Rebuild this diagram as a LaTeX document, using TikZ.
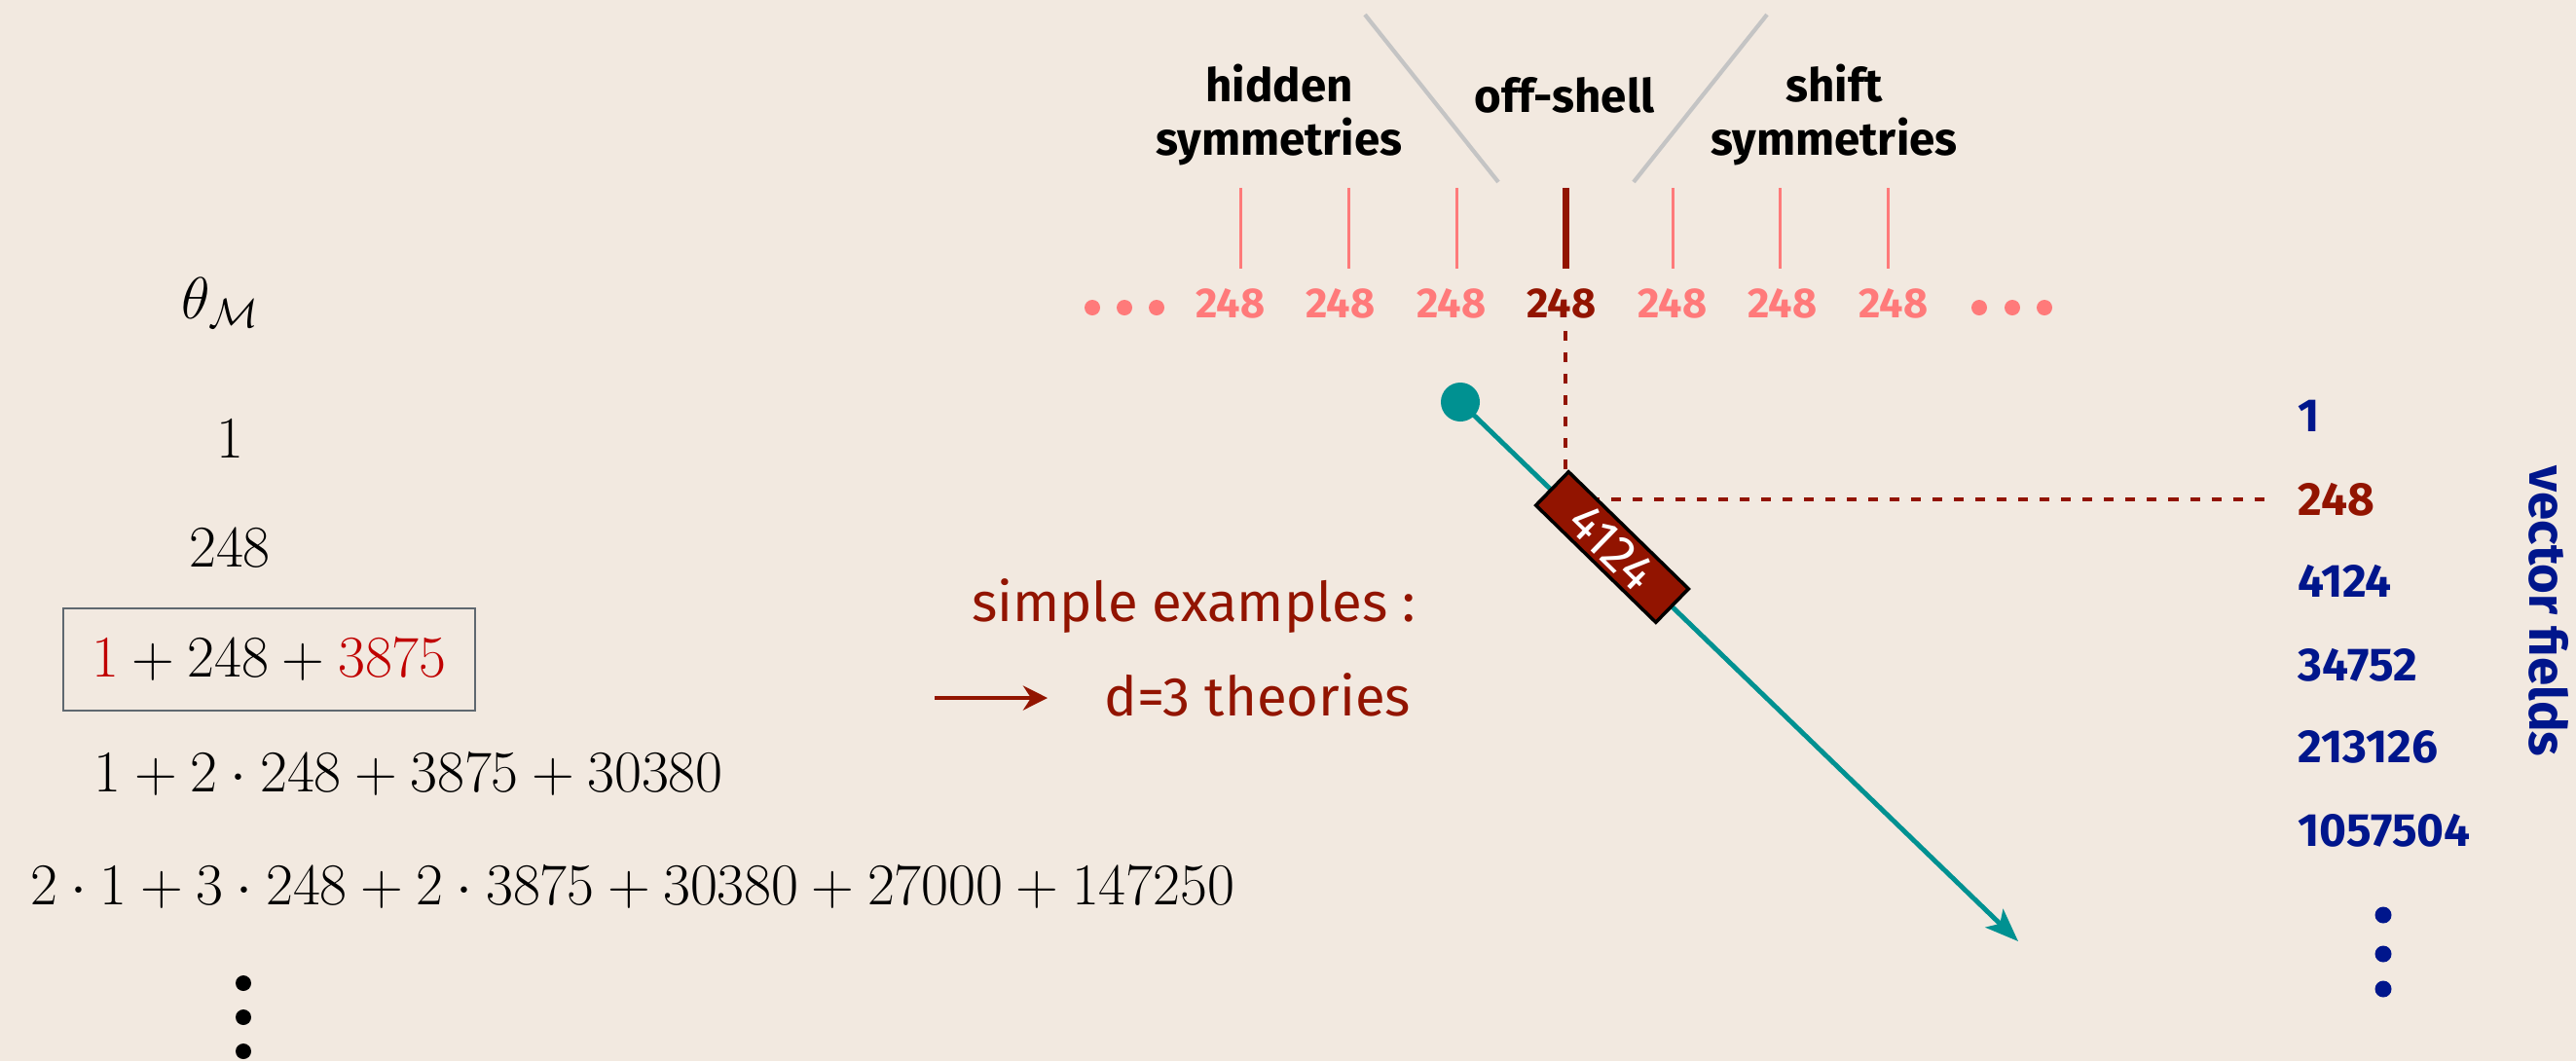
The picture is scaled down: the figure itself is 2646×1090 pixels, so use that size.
\documentclass[tikz,border=0pt]{standalone}
\usepackage{fontspec}
\setmainfont{Latin Modern Roman}
\newfontfamily\labfont{Fira Sans}
\usetikzlibrary{arrows.meta,calc}
\definecolor{bgc}{RGB}{242,233,224}
\definecolor{dred}{RGB}{146,20,0}
\definecolor{pinkc}{RGB}{255,122,122}
\definecolor{tealc}{RGB}{0,145,145}
\definecolor{bluec}{RGB}{0,22,140}
\definecolor{redc}{RGB}{192,0,0}
\definecolor{boxgrey}{RGB}{95,104,112}
\definecolor{lgrey}{RGB}{196,196,196}
\tikzset{
  mathtxt/.style={inner sep=0pt, font=\fontsize{17.3}{20}\selectfont},
  toplab/.style={inner sep=0pt, align=center, font=\labfont\bfseries\fontsize{13.5}{15.4}\selectfont},
  ring/.style={inner sep=0pt, text=pinkc, font=\labfont\bfseries\fontsize{12.3}{14}\selectfont},
  ringdark/.style={ring, text=dred},
  ptick/.style={draw=pinkc, line width=0.85pt},
  dtick/.style={draw=dred, line width=2pt},
  vf/.style={inner sep=0pt, anchor=west, text=bluec, font=\labfont\bfseries\fontsize{13.6}{16}\selectfont},
  redtxt/.style={inner sep=0pt, text=dred, font=\labfont\fontsize{16}{19}\selectfont},
  sepline/.style={draw=lgrey, line width=1.2pt},
}
\begin{document}
\begin{tikzpicture}[x=0.01cm,y=-0.01cm]
\fill[bgc] (0,0) rectangle (2646,1090);
\useasboundingbox (0,0) rectangle (2646,1090);

% left column
\node[mathtxt] (theta) at (227,311) {$\theta_{\mathcal{M}}$};
\node[mathtxt] (l1) at (236,451) {$1$};
\node[mathtxt] (l2) at (236,563) {$248$};
\node[mathtxt, draw=boxgrey, line width=0.6pt, minimum width=4.23cm, minimum height=1.05cm] (l3) at (276.5,677.5)
  {$\textcolor{redc}{1}+248+\textcolor{redc}{3875}$};
\node[mathtxt] (l4) at (420,796) {$1+2\cdot248+3875+30380$};
\node[mathtxt] (l5) at (650,912) {$2\cdot1+3\cdot248+2\cdot3875+30380+27000+147250$};
\fill[black] (250,1010) circle (8);
\fill[black] (250,1045) circle (8);
\fill[black] (250,1080) circle (8);

% top labels
\node[toplab] (hid) at (1314,118) {hidden\\symmetries};
\node[toplab] (off) at (1607,98) {off-shell};
\node[toplab] (shi) at (1884,118) {shift\\symmetries};
\draw[sepline] (1402,15) -- (1539,187);
\draw[sepline] (1815,15) -- (1678,187);

% ticks
\foreach \x in {1274,1385,1496,1718,1828,1939} \draw[ptick] (\x,193) -- (\x,276);
\draw[dtick] (1608,193) -- (1608,276);

% 248 row
\node[ring] (n1) at (1264,312) {248};
\node[ring] (n2) at (1377,312) {248};
\node[ring] (n3) at (1491,312) {248};
\node[ringdark] (n4) at (1604,312) {248};
\node[ring] (n5) at (1718,312) {248};
\node[ring] (n6) at (1831,312) {248};
\node[ring] (n7) at (1945,312) {248};
\foreach \x in {1122,1155,1188,2033,2067,2100} \fill[pinkc] (\x,316) circle (8);

% right column
\node[vf] (r1) at (2360,427) {1};
\node[vf, text=dred] (r248) at (2360,513) {248};
\node[vf] (r3) at (2360,597) {4124};
\node[vf] (r4) at (2360,683) {34752};
\node[vf] (r5) at (2360,767) {213126};
\node[vf] (r6) at (2360,853) {1057504};
\fill[bluec] (2448,940) circle (8.5);
\fill[bluec] (2448,980) circle (8.5);
\fill[bluec] (2448,1016) circle (8.5);
\node[inner sep=0pt, rotate=-90, text=bluec, font=\labfont\bfseries\fontsize{15}{18}\selectfont] (vfl) at (2618,628) {vector fields};

% dashed connector
\coordinate (dtop) at (1608,340);
\draw[dred, line width=1.4pt, dash pattern=on 0.1cm off 0.12cm] (dtop) |- ([xshift=-0.3cm]r248.west);

% teal arrow
\node[circle, fill=tealc, inner sep=0pt, minimum size=0.4cm] (start) at (1500,413) {};
\coordinate (tip) at (2073,967);
\draw[tealc, line width=1.4pt, -{Stealth[length=0.34cm,width=0.26cm,inset=0.08cm]}] (start.center) -- (tip);

% 4124 box
\node[rotate=-44.3, fill=dred, draw=black, line width=1pt, minimum width=1.72cm, minimum height=0.48cm, inner sep=0pt,
  text=white, font=\labfont\fontsize{15}{18}\selectfont] (box) at (1656,562) {4124};

% simple examples
\node[redtxt, anchor=base] (se) at (1226,638) {simple examples :};
\node[redtxt, anchor=base] (th) at (1292,735) {d=3 theories};
\coordinate (a1) at (960,717);
\coordinate (a2) at (1076,717);
\draw[dred, line width=1.4pt, -{Stealth[length=0.25cm,width=0.25cm,inset=0.08cm]}] (a1) -- (a2);
\end{tikzpicture}
\end{document}
